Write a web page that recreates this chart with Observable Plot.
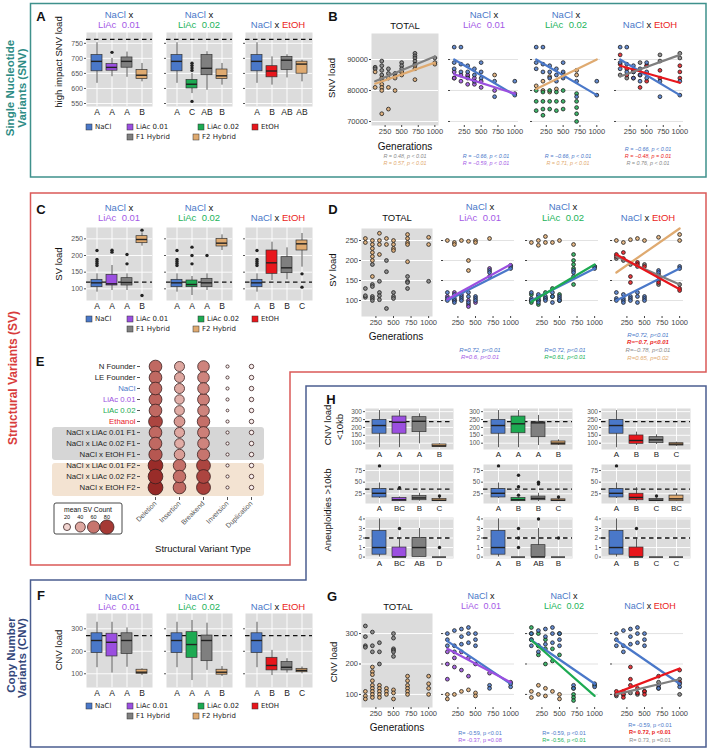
<!DOCTYPE html>
<html><head><meta charset="utf-8">
<script src="https://cdn.jsdelivr.net/npm/d3@7"></script>
<script src="https://cdn.jsdelivr.net/npm/@observablehq/plot@0.6"></script>
<style>
html,body{margin:0;padding:0;background:#fff}
#root{position:relative;width:709px;height:750px;overflow:hidden;background:#fff}
</style></head><body><div id="root"></div>
<script>
// ---------------- DATA ----------------
const groupColors = {NaCl:'#4A78C9', LiAc01:'#9B4FE0', LiAc02:'#1DAA52', EtOH:'#E8161C', F1:'#7F7F7F', F2:'#DFAA70'};
// box rows: [group, lowWhisker, q1, median, q3, highWhisker]
const snvBox1 = [['NaCl',617,657,690,711,752],['LiAc01',639,659,670,681,700],['F1',637,669,690,703,721],['F2',622,631,644,661,683]];
const snvOut1 = [[1,720]];
const snvBox2 = [['NaCl',617,657,690,711,752],['LiAc02',583,600,614,628,650],['F1',594,644,667,711,722],['F2',611,631,642,663,683]];
const snvOut2 = [[1,684],[1,676],[1,668],[1,660],[1,557]];
const snvBox3 = [['NaCl',617,657,690,711,752],['EtOH',611,637,658,674,705],['F1',635,661,694,705,712],['F2',622,649,681,689,694]];
const snvOut3 = [];
const snvLetters = [['A','A','A','B'],['A','C','AB','B'],['A','B','AB','AB']];
const snvTicks = [550,600,650,700,750];

const svBox1 = [['NaCl',90,105,118,127,145],['LiAc01',95,110,115,142,170],['F1',95,110,119,132,145],['F2',228,237,248,258,268]];
const svOut1 = [[0,215],[0,188],[0,182],[0,176],[0,170],[1,216],[1,210],[2,203],[2,175],[3,276],[3,80]];
const svBox2 = [['NaCl',90,105,118,127,145],['LiAc02',80,105,113,125,137],['F1',95,105,118,130,145],['F2',215,227,237,250,262]];
const svOut2 = [[0,215],[0,188],[0,182],[0,176],[0,170],[1,225],[1,200],[1,175],[2,200]];
const svBox3 = [['NaCl',90,105,118,127,145],['EtOH',125,145,178,215,240],['F1',127,147,163,195,223],['F2',165,215,235,245,266]];
const svOut3 = [[0,215],[0,188],[0,182],[0,176],[0,170],[3,145],[3,105]];
const svLetters = [['A','A','A','B'],['A','A','A','B'],['A','B','B','C']];
const svTicks = [100,150,200,250];

const cnvBox1 = [['NaCl',127,192,248,280,329],['LiAc01',103,177,240,278,329],['F1',129,188,248,280,304],['F2',92,100,107,118,122]];
const cnvBox2 = [['NaCl',127,192,248,280,329],['LiAc02',70,171,230,285,337],['F1',115,156,248,270,325],['F2',88,96,107,118,132]];
const cnvBox3 = [['NaCl',127,192,248,280,329],['EtOH',92,115,137,171,204],['F1',103,115,129,152,167],['F2',100,107,115,122,130]];
const cnvLetters = [['A','A','A','B'],['A','A','A','B'],['A','B','B','C']];
const cnvTicks = [100,200,300];

// H: small CNV panels
const hSmallBox1 = [['NaCl',71,160,212,248,307],['LiAc01',71,160,233,269,307],['F1',96,170,239,265,286],['F2',72,75,83,92,96]];
const hSmallBox2 = [['NaCl',71,160,212,248,307],['LiAc02',71,163,223,269,307],['F1',85,138,229,233,276],['F2',85,90,100,111,121]];
const hSmallBox3 = [['NaCl',71,160,212,248,307],['EtOH',85,96,117,149,170],['F1',92,100,121,138,153],['F2',80,85,94,100,106]];
const hSmallLetters = [['A','A','A','B'],['A','A','A','B'],['A','B','B','C']];
const hLargeBox1 = [['NaCl',15,17,26,35,48],['LiAc01',8,9,12,16,18],['F1',9,11,16,20,26],['F2',8,9,11,14,18]];
const hLargeOut1 = [[0,85],[1,38],[3,20]];
const hLargeBox2 = [['NaCl',15,17,26,35,48],['LiAc02',8,9,12,16,18],['F1',8,11,15,19,26],['F2',8,9,11,13,16]];
const hLargeOut2 = [[0,85],[1,65],[1,40],[1,22],[2,50],[2,46],[3,18]];
const hLargeBox3 = [['NaCl',15,17,26,35,48],['EtOH',8,11,17,25,38],['F1',8,9,11,14,16],['F2',8,9,14,21,26]];
const hLargeOut3 = [[0,85],[2,20]];
const hLargeLetters = [['A','BC','B','C'],['A','B','B','C'],['A','B','C','BC']];
const hAneuBox1 = [['NaCl',0,0.25,1,2.75,4],['LiAc01',0,0,0,1,2],['F1',0,0,1,2,3],['F2',0,0,0,0,0]];
const hAneuOut1 = [[1,3],[3,1]];
const hAneuBox2 = [['NaCl',0,0.25,1,2.75,4],['LiAc02',0,0,0,0,0],['F1',0,0,0,1.25,3],['F2',0,0,0,0,0]];
const hAneuOut2 = [[1,1],[1,2],[1,3],[2,4],[3,2]];
const hAneuBox3 = [['NaCl',0,0.25,1,2.75,4],['EtOH',0,0,0,1,2],['F1',0,0,0,0,0],['F2',0,0,0,0,0]];
const hAneuOut3 = [[1,3]];
const hAneuLetters = [['A','BC','AB','D'],['A','B','AB','B'],['A','B','C','C']];

// B: SNV load vs generations  [generation, value]
const snvTotalF1 = [[100,87500],[100,87000],[200,89500],[200,88000],[200,86500],[200,85000],[200,83500],[300,87000],[300,85500],[400,85500],[400,84500],[500,89000],[500,88000],[500,87000],[500,86000],[700,92000],[700,91200],[700,90500],[700,89500],[700,88500],[1000,90500],[1000,89000]];
const snvTotalF2 = [[100,81000],[100,86000],[200,84000],[200,82000],[200,81000],[200,80000],[200,72500],[300,84000],[300,81000],[300,74000],[400,84000],[400,80000],[500,86000],[500,85000],[700,88000],[700,87000],[700,83500],[1000,88500]];
const snvNaCl = [[100,94000],[100,89000],[100,87000],[200,94000],[200,88500],[200,86000],[300,88000],[300,86000],[300,84000],[400,87000],[400,85000],[400,83000],[500,89000],[500,86000],[500,84000],[700,83000],[700,78000],[1000,83000],[1000,78500]];
const snvLiAc01 = [[100,86000],[100,84000],[200,85000],[200,83000],[300,85000],[300,82000],[400,84000],[400,82000],[500,83000],[500,81000],[700,80000],[1000,79000]];
const snvF2inLiAc01 = [[100,84000],[300,84500],[400,83000],[700,85000]];
const snvLiAc02 = [[100,80000],[100,76500],[100,73500],[200,79500],[200,76500],[200,74000],[200,72000],[300,80000],[300,76500],[300,74000],[400,79500],[400,76500],[400,73500],[500,80000],[500,76500],[500,74000],[700,79000],[700,76500],[700,74500],[700,72500],[700,70000]];
const snvF2inLiAc02 = [[100,81500],[200,83000],[200,80000],[300,84500],[300,79500],[400,80500],[500,85500],[500,84500],[700,86500],[700,85000]];
const snvEtOH = [[100,91500],[100,88500],[200,87000],[200,85000],[300,84000],[300,86500],[400,85000],[400,81000],[500,88000],[500,83000],[700,86500],[700,84000],[1000,88000],[1000,86000],[1000,84000]];
const snvF1inEtOH = [[100,85000],[200,84000],[300,86000],[400,89000],[500,88000],[700,91500],[700,89500],[1000,90500],[1000,92000]];
// regression fits: [group, gen1, value1, gen2, value2]
const snvFitTotal = [['F1',100,83000,1000,91000],['F2',100,82200,1000,89000]];
const snvFitLiAc01 = [['NaCl',100,90000,1000,78500],['LiAc01',100,85200,1000,79000]];
const snvFitLiAc02 = [['NaCl',100,90000,1000,78500],['F2',100,80500,1000,90000]];
const snvFitEtOH = [['NaCl',100,90000,1000,78500],['EtOH',100,88000,1000,82500],['F1',100,84500,1000,91500]];

// D: SV load vs generations
const svTotalF1 = [[100,108],[100,112],[100,130],[200,190],[200,140],[200,135],[200,110],[200,105],[200,100],[300,120],[300,112],[300,102],[300,148],[400,80],[400,172],[400,200],[500,120],[500,110],[500,105],[700,160],[700,148],[700,145],[700,130],[1000,148]];
const svTotalF2 = [[100,255],[100,245],[200,250],[200,240],[200,230],[200,220],[200,210],[200,200],[200,160],[300,268],[300,250],[300,240],[300,215],[400,255],[400,240],[500,250],[500,240],[500,230],[500,225],[700,265],[700,255],[700,245],[700,240],[700,197],[1000,258],[1000,240]];
const svNaCl = [[100,120],[100,105],[100,100],[200,115],[200,105],[200,100],[200,95],[300,110],[300,105],[300,100],[400,120],[400,110],[400,95],[500,110],[500,105],[500,100],[700,175],[700,170],[700,160],[1000,185],[1000,180]];
const svLiAc01 = [[100,110],[200,120],[200,100],[300,115],[400,100],[400,90],[400,85],[500,95],[700,180],[1000,188]];
const svF2inLiAc01 = [[100,250],[200,245],[200,240],[300,250],[400,248],[500,250],[500,245],[700,255],[400,175],[400,200]];
const svLiAc02 = [[100,115],[100,100],[100,95],[200,110],[200,100],[200,90],[300,120],[300,105],[400,130],[400,110],[500,115],[500,100],[700,215],[700,200],[700,190],[700,180],[700,140],[1000,185]];
const svF2inLiAc02 = [[100,245],[200,250],[200,238],[300,260],[300,245],[400,245],[500,250],[700,240]];
const svEtOH = [[100,215],[100,210],[200,220],[200,205],[300,145],[300,160],[400,195],[400,190],[500,185],[700,165],[700,145],[1000,130],[1000,125]];
const svF1inEtOH = [[100,205],[200,200],[300,190],[400,185],[500,190],[700,150],[700,140],[1000,140]];
const svF2inEtOH = [[100,250],[200,245],[300,252],[400,255],[500,250],[700,258],[1000,250],[1000,265]];
const svFitLiAc01 = [['NaCl',100,100,1000,180],['LiAc01',100,103,1000,190]];
const svFitLiAc02 = [['NaCl',100,100,1000,180],['LiAc02',100,97,1000,190]];
const svFitEtOH = [['NaCl',100,100,1000,180],['F2',100,170,1000,280],['F1',100,210,1000,140],['EtOH',100,215,1000,128]];

// G: CNV load vs generations
const cnvTotalHigh = [[100,325],[100,290],[100,260],[100,255],[200,305],[200,260],[200,240],[300,270],[300,240],[300,200],[500,300],[500,285],[500,250],[500,245],[500,240],[500,225]];
const cnvTotalLow = [[100,110],[100,95],[100,85],[200,190],[200,175],[200,165],[200,145],[200,130],[200,120],[200,110],[200,100],[200,90],[300,130],[300,120],[300,110],[300,100],[300,90],[400,120],[400,110],[400,100],[500,115],[500,105],[500,85],[700,160],[700,145],[700,130],[700,120],[700,110],[700,100],[1000,160],[1000,135],[1000,120],[1000,100]];
const cnvNaCl = [[100,300],[100,280],[100,260],[200,310],[200,260],[200,240],[300,315],[300,290],[300,265],[400,320],[400,300],[400,270],[500,300],[500,280],[500,260],[700,130],[700,120],[1000,135],[1000,125]];
const cnvLiAc01 = [[100,240],[100,200],[100,150],[200,220],[200,190],[300,240],[300,180],[400,220],[400,160],[500,200],[700,170],[1000,140]];
const cnvF2inLiAc01 = [[100,100],[100,85],[200,100],[300,110],[400,115],[500,105],[500,95]];
const cnvLiAc02 = [[100,320],[100,300],[100,280],[200,300],[200,260],[200,230],[300,280],[300,250],[300,200],[400,250],[400,210],[500,300],[500,230],[700,120],[700,100],[700,90],[700,80],[1000,130]];
const cnvF2inLiAc02 = [[100,110],[100,90],[200,130],[200,100],[300,120],[300,95],[400,110],[500,100],[500,85]];
const cnvEtOH = [[100,110],[100,100],[200,110],[200,100],[200,90],[300,190],[300,150],[300,130],[400,120],[400,105],[500,110],[500,100],[700,160],[700,130],[1000,180],[1000,140]];
const cnvF1inEtOH = [[100,95],[200,100],[300,105],[400,100],[500,110],[700,140],[700,120],[1000,150],[1000,100]];
const cnvFitLiAc01 = [['NaCl',100,275,1000,135],['LiAc01',100,250,1000,140]];
const cnvFitLiAc02 = [['NaCl',100,278,1000,135],['LiAc02',100,278,1000,95]];
const cnvFitEtOH = [['NaCl',100,278,1000,135],['EtOH',100,105,1000,185],['F1',100,100,1000,150]];
const genTicks = [250,500,750,1000];

// E: mean SV counts
const svTypes = ['Deletion','Insertion','Breakend','Inversion','Duplication'];
const svRows = ['N Founder','LE Founder','NaCl','LiAc 0.01','LiAc 0.02','Ethanol','NaCl x LiAc 0.01 F1','NaCl x LiAc 0.02 F1','NaCl x EtOH F1','NaCl x LiAc 0.01 F2','NaCl x LiAc 0.02 F2','NaCl x EtOH F2'];
const svDeletion = [64,64,64,66,64,76,64,64,70,86,86,88];
const svInsertion = [40,40,40,36,38,46,40,38,44,62,62,64];
const svBreakend = [54,54,54,56,54,62,56,54,60,76,76,78];
const svInversion = [4,4,4,4,3,4,4,4,4,4,4,4];
const svDuplication = [8,8,8,8,8,8,8,8,8,8,8,8];
const svLegendValues = [20,40,60,80];

// ---------------- RENDER ----------------
const FONT = "'Liberation Sans', Arial, sans-serif";
const LFONT = "'DejaVu Sans', Verdana, sans-serif";
const BG = '#dcdcdc';
const root = document.getElementById('root');
const under = d3.select(root).append('svg').attr('width',709).attr('height',750)
  .style('position','absolute').style('left','0px').style('top','0px');

function put(svg, x, y) {
  svg.style.position = 'absolute'; svg.style.left = x + 'px'; svg.style.top = y + 'px';
  svg.style.background = 'transparent'; svg.style.maxWidth = 'none'; svg.style.overflow = 'visible';
  root.appendChild(svg);
}

function boxPanel(rows, outs, letters, o) {
  const stats = rows.map((r, i) => ({i, c: groupColors[r[0]], lo: r[1], q1: r[2], med: r[3], q3: r[4], hi: r[5]}));
  const out = outs.map(([i, v]) => ({i, v}));
  const mL = 34, mR = 2, mT = 2, mB = 16;
  const svg = Plot.plot({
    width: o.w + mL + mR, height: o.h + mT + mB,
    marginLeft: mL, marginRight: mR, marginTop: mT, marginBottom: mB,
    style: {fontFamily: FONT, fontSize: (o.fs || 7) + 'px', background: 'transparent', overflow: 'visible'},
    x: {type: 'band', domain: [0, 1, 2, 3], padding: o.pad ?? 0.3},
    y: {domain: o.domain},
    color: {type: 'identity'},
    marks: [
      Plot.frame({fill: BG, stroke: 'none'}),
      Plot.gridY(o.ticks, {stroke: 'white', strokeOpacity: 1, strokeWidth: 0.9}),
      Plot.ruleX([0, 1, 2, 3], {x: d => d, stroke: 'white', strokeWidth: 0.9}),
      Plot.ruleY([o.dash], {stroke: '#111', strokeWidth: 1.3, strokeDasharray: '4.5,3.5'}),
      Plot.ruleX(stats, {x: 'i', y1: 'lo', y2: 'hi', stroke: '#333', strokeWidth: 0.8}),
      Plot.barY(stats, {x: 'i', y1: 'q1', y2: 'q3', fill: 'c', stroke: '#333', strokeWidth: 0.7}),
      Plot.tickY(stats, {x: 'i', y: 'med', stroke: '#222', strokeWidth: 1.4}),
      Plot.dot(out, {x: 'i', y: 'v', r: o.r ?? 1.7, fill: '#222', stroke: 'none'}),
      Plot.axisX({tickSize: 0, tickPadding: 2, tickFormat: i => letters[i], fontSize: o.lfs || 8.5, fill: '#222', label: null}),
      Plot.axisY(o.ticks, {tickSize: 2, tickPadding: 1.5, label: null, fill: '#555', stroke: '#555',
        tickFormat: o.yLabels ? (d => String(d)) : (() => '')})
    ]
  });
  put(svg, o.x - mL, o.y - mT);
}

function scatterPanel(series, fits, o) {
  const pts = series.flatMap(([g, arr]) => arr.map(([gen, v]) => ({gen, v, c: groupColors[g]})));
  const lines = fits.map(([g, x1, y1, x2, y2]) => ({c: groupColors[g], pts: [{gen: x1, v: y1}, {gen: x2, v: y2}]}));
  const mL = 40, mR = 3, mT = 2, mB = 16;
  const svg = Plot.plot({
    width: o.w + mL + mR, height: o.h + mT + mB,
    marginLeft: mL, marginRight: mR, marginTop: mT, marginBottom: mB,
    style: {fontFamily: FONT, fontSize: '7.5px', background: 'transparent', overflow: 'visible'},
    x: {domain: [45, 1055]},
    y: {domain: o.domain},
    color: {type: 'identity'},
    marks: [
      o.total ? Plot.frame({fill: BG, stroke: 'none'}) : null,
      Plot.gridY(o.ticks, {stroke: o.total ? 'white' : '#dadada', strokeOpacity: 1, strokeWidth: o.total ? 1 : 0.8}),
      Plot.dot(pts, {x: 'gen', y: 'v', r: 1.9, fill: 'c', fillOpacity: 0.85, stroke: '#1e1e1e', strokeOpacity: 1, strokeWidth: 0.8}),
      ...lines.map(l => Plot.line(l.pts, {x: 'gen', y: 'v', stroke: l.c, strokeWidth: 2.2})),
      Plot.axisX(genTicks, {tickSize: 2, tickPadding: 1.5, fontSize: 7.5, fill: '#444', stroke: '#444', label: null, tickFormat: d => String(d)}),
      Plot.axisY(o.ticks, {tickSize: 2, tickPadding: 1.5, label: null, fill: '#444', stroke: '#444',
        tickFormat: o.yLabels ? (d => String(d)) : (() => '')})
    ]
  });
  put(svg, o.x - mL, o.y - mT);
}

// A
const colsABF = [[86, 66], [166, 66], [245, 67]];
[[snvBox1, snvOut1], [snvBox2, snvOut2], [snvBox3, snvOut3]].forEach(([b, ou], k) =>
  boxPanel(b, ou, snvLetters[k], {x: colsABF[k][0], w: colsABF[k][1], y: 32, h: 74, domain: [540, 786], ticks: snvTicks, dash: 763, yLabels: k === 0}));
// C
[[svBox1, svOut1], [svBox2, svOut2], [svBox3, svOut3]].forEach(([b, ou], k) =>
  boxPanel(b, ou, svLetters[k], {x: colsABF[k][0], w: colsABF[k][1], y: 227, h: 73, domain: [65, 284], ticks: svTicks, dash: 120, yLabels: k === 0}));
// F
[cnvBox1, cnvBox2, cnvBox3].forEach((b, k) =>
  boxPanel(b, [], cnvLetters[k], {x: colsABF[k][0], w: colsABF[k][1], y: 613, h: 74, domain: [39, 368], ticks: cnvTicks, dash: 270, yLabels: k === 0}));
// H
const colsH = [[365, 88], [483, 89], [601, 89]];
[hSmallBox1, hSmallBox2, hSmallBox3].forEach((b, k) =>
  boxPanel(b, [], hSmallLetters[k], {x: colsH[k][0], w: colsH[k][1], y: 408, h: 41, domain: [60, 320], ticks: [100, 150, 200, 250, 300], dash: 237, yLabels: true, fs: 6.5, lfs: 8}));
[[hLargeBox1, hLargeOut1], [hLargeBox2, hLargeOut2], [hLargeBox3, hLargeOut3]].forEach(([b, ou], k) =>
  boxPanel(b, ou, hLargeLetters[k], {x: colsH[k][0], w: colsH[k][1], y: 464, h: 39, domain: [4, 88], ticks: [25, 50, 75], dash: 35, yLabels: true, fs: 6.5, lfs: 8}));
[[hAneuBox1, hAneuOut1], [hAneuBox2, hAneuOut2], [hAneuBox3, hAneuOut3]].forEach(([b, ou], k) =>
  boxPanel(b, ou, hAneuLetters[k], {x: colsH[k][0], w: colsH[k][1], y: 517, h: 41, domain: [-0.15, 4.15], ticks: [0, 1, 2, 3, 4], dash: 2, yLabels: true, fs: 6.5, lfs: 8}));

// B
const colsB = [[371, 67], [450, 68], [532, 68], [616, 67]];
const snvOpts = {y: 33, h: 92, domain: [68700, 98400], ticks: [70000, 80000, 90000]};
scatterPanel([['F1', snvTotalF1], ['F2', snvTotalF2]], snvFitTotal, {...snvOpts, x: colsB[0][0], w: colsB[0][1], total: true, yLabels: true});
scatterPanel([['F2', snvF2inLiAc01], ['LiAc01', snvLiAc01], ['NaCl', snvNaCl]], snvFitLiAc01, {...snvOpts, x: colsB[1][0], w: colsB[1][1]});
scatterPanel([['F2', snvF2inLiAc02], ['LiAc02', snvLiAc02], ['NaCl', snvNaCl]], snvFitLiAc02, {...snvOpts, x: colsB[2][0], w: colsB[2][1]});
scatterPanel([['F1', snvF1inEtOH], ['EtOH', snvEtOH], ['NaCl', snvNaCl]], snvFitEtOH, {...snvOpts, x: colsB[3][0], w: colsB[3][1]});
// D
const colsDG = [[361, 71], [443, 71], [527, 71], [612, 71]];
const svOpts = {y: 228, h: 88, domain: [60, 280], ticks: [100, 150, 200, 250]};
scatterPanel([['F1', svTotalF1], ['F2', svTotalF2]], [], {...svOpts, x: colsDG[0][0], w: colsDG[0][1], total: true, yLabels: true});
scatterPanel([['F2', svF2inLiAc01], ['LiAc01', svLiAc01], ['NaCl', svNaCl]], svFitLiAc01, {...svOpts, x: colsDG[1][0], w: colsDG[1][1]});
scatterPanel([['F2', svF2inLiAc02], ['LiAc02', svLiAc02], ['NaCl', svNaCl]], svFitLiAc02, {...svOpts, x: colsDG[2][0], w: colsDG[2][1]});
scatterPanel([['F2', svF2inEtOH], ['F1', svF1inEtOH], ['EtOH', svEtOH], ['NaCl', svNaCl]], svFitEtOH, {...svOpts, x: colsDG[3][0], w: colsDG[3][1]});
// G
const cnvOpts = {y: 613, h: 94, domain: [57, 366], ticks: [100, 200, 300]};
scatterPanel([['F1', cnvTotalHigh], ['F2', cnvTotalLow]], [], {...cnvOpts, x: colsDG[0][0], w: colsDG[0][1], total: true, yLabels: true});
scatterPanel([['F2', cnvF2inLiAc01], ['LiAc01', cnvLiAc01], ['NaCl', cnvNaCl]], cnvFitLiAc01, {...cnvOpts, x: colsDG[1][0], w: colsDG[1][1]});
scatterPanel([['F2', cnvF2inLiAc02], ['LiAc02', cnvLiAc02], ['NaCl', cnvNaCl]], cnvFitLiAc02, {...cnvOpts, x: colsDG[2][0], w: colsDG[2][1]});
scatterPanel([['F1', cnvF1inEtOH], ['EtOH', cnvEtOH], ['NaCl', cnvNaCl]], cnvFitEtOH, {...cnvOpts, x: colsDG[3][0], w: colsDG[3][1]});

// E bubble chart
under.append('rect').attr('x', 52).attr('y', 427).attr('width', 212).attr('height', 33).attr('rx', 3).attr('fill', '#d6d6d6');
under.append('rect').attr('x', 52).attr('y', 463).attr('width', 212).attr('height', 33).attr('rx', 3).attr('fill', '#f3e3d2');
const svCols = [svDeletion, svInsertion, svBreakend, svInversion, svDuplication];
const svData = svTypes.flatMap((t, j) => svRows.map((r, i) => ({type: t, row: r, v: svCols[j][i]})));
const SVC_DOMAIN = [0, 20, 40, 60, 80, 100];
const SVC_RANGE = ['#ffffff', '#f1d5d1', '#dea7a0', '#c7756e', '#a53934', '#7d0f0f'];
const rowColor = {'NaCl': groupColors.NaCl, 'LiAc 0.01': groupColors.LiAc01, 'LiAc 0.02': groupColors.LiAc02, 'Ethanol': groupColors.EtOH};
const labelMarks = d3.groups(svRows, r => rowColor[r] || '#222').map(([c, rs]) =>
  Plot.text(rs, {y: d => d, text: d => d, frameAnchor: 'left', textAnchor: 'end', dx: -5, fill: c, fontSize: 7.8}));
const eSvg = Plot.plot({
  width: 290, height: 215, marginLeft: 140, marginRight: 20, marginTop: 10, marginBottom: 58,
  style: {fontFamily: FONT, fontSize: '7px', background: 'transparent', overflow: 'visible'},
  x: {type: 'point', domain: svTypes, range: [154, 252], padding: 0},
  y: {type: 'point', domain: svRows, range: [21, 151], padding: 0},
  r: {type: 'sqrt', domain: [0, 90], range: [0, 7.5]},
  color: {type: 'linear', domain: SVC_DOMAIN, range: SVC_RANGE},
  marks: [
    Plot.dot(svData, {x: 'type', y: 'row', r: 'v', fill: 'v', stroke: '#3a2020', strokeWidth: 0.8}),
    ...labelMarks,
    Plot.axisX({tickRotate: -45, tickSize: 3, tickPadding: 2, fontSize: 7, fill: '#555', stroke: '#555', textAnchor: 'end', label: null}),
    Plot.axisY({tickSize: 3, tickFormat: () => '', label: null, stroke: '#555'})
  ]
});
put(eSvg, 0, 340);

// ---------------- OVERLAY (frames, titles, labels, legends) ----------------
const ov = d3.select(root).append('svg').attr('width', 709).attr('height', 750)
  .style('position', 'absolute').style('left', '0px').style('top', '0px').style('pointer-events', 'none');
function T(x, y, segs, o = {}) {
  const t = ov.append('text').attr('x', x).attr('y', y).attr('font-size', o.size || 9.5)
    .attr('text-anchor', o.anchor || 'middle').attr('font-weight', o.weight || 'normal')
    .attr('font-style', o.style || 'normal').attr('font-family', o.family || FONT)
    .attr('dominant-baseline', 'central').style('white-space', 'pre');
  if (o.rotate) t.attr('transform', `rotate(${o.rotate},${x},${y})`);
  if (typeof segs === 'string') segs = [[segs, o.color || '#111']];
  segs.forEach(([s, c]) => t.append('tspan').attr('fill', c).text(s));
}
function path(d, c, w = 1.5) { ov.append('path').attr('d', d).attr('fill', 'none').attr('stroke', c).attr('stroke-width', w); }
path('M30.5,3.5H706V177H30.5Z', '#3F918C');
path('M30.5,193H706V372H290V565H30.5Z', '#DA5A58');
path('M306,386H706V747H30.5V580H306Z', '#4B5E90');

T(10, 88, 'Single Nucleotide', {size: 11.5, weight: 'bold', color: '#2E8C85', rotate: -90});
T(22, 88, 'Variants (SNV)', {size: 11.5, weight: 'bold', color: '#2E8C85', rotate: -90});
T(13, 378, 'Structural Variants (SV)', {size: 12, weight: 'bold', color: '#D83C3C', rotate: -90});
T(11, 655, 'Copy Number', {size: 11.5, weight: 'bold', color: '#34477A', rotate: -90});
T(22, 658, 'Variants (CNV)', {size: 11.5, weight: 'bold', color: '#34477A', rotate: -90});

[['A', 41, 16], ['B', 333, 16], ['C', 41, 209], ['D', 333, 209], ['E', 40, 361], ['F', 41, 595], ['G', 332, 596], ['H', 331, 399]]
  .forEach(([s, x, y]) => T(x, y, s, {size: 13, weight: 'bold'}));

const blue = groupColors.NaCl, pur = '#A45AE6', grn = '#22B35A', red = '#EA1D22';
function titles(xs, y1, y2, size = 9.5) {
  T(xs[0], y1, [['NaCl', blue], [' x', '#111']], {size}); T(xs[0], y2, [['LiAc  0.01', pur]], {size});
  T(xs[1], y1, [['NaCl', blue], [' x', '#111']], {size}); T(xs[1], y2, [['LiAc  0.02', grn]], {size});
  T(xs[2], y2, [['NaCl', blue], [' x ', '#111'], ['EtOH', red]], {size});
}
titles([119, 199, 278], 14, 24);
titles([119, 199, 278], 207, 217);
titles([119, 199, 278], 596, 606);
titles([484, 566, 650], 14, 24); T(405, 25, 'TOTAL');
titles([480, 563, 648], 206, 217); T(397, 217, 'TOTAL');
titles([481, 564, 650], 595.5, 605.5, 9); T(398, 606, 'TOTAL');

T(58, 62, 'high impact SNV load', {rotate: -90, size: 9.5});
T(331, 78, 'SNV load', {rotate: -90, size: 9.5});
T(58, 264, 'SV load', {rotate: -90, size: 9.5});
T(332, 270, 'SV load', {rotate: -90, size: 9.5});
T(58, 650, 'CNV load', {rotate: -90, size: 9.5});
T(333, 662, 'CNV load', {rotate: -90, size: 9.5});
T(327, 425, 'CNV load', {rotate: -90, size: 9.5});
T(339, 427, '<10kb', {rotate: -90, size: 9.5});
T(327, 510, 'Aneuploidies >10kb', {rotate: -90, size: 9.5});
T(405, 146, 'Generations', {size: 10});
T(396, 336, 'Generations', {size: 10});
T(397, 727, 'Generations', {size: 10});
T(203, 548, 'Structural Variant Type', {size: 9.5});

const gry = '#8a8a8a', tan = '#DFAA70';
const st = (x, y, s, c, o = {}) => T(x, y, s, {size: o.size || 5.4, style: o.style || 'italic', color: c, weight: o.weight});
st(405, 156, 'R = 0.48, p < 0.01', gry); st(405, 163, 'R = 0.57, p < 0.01', tan);
st(486, 156, 'R = −0.66, p < 0.01', blue); st(486, 163, 'R = −0.59, p < 0.01', pur);
st(568, 156, 'R = −0.66, p < 0.01', blue); st(568, 163, 'R = 0.71, p < 0.01', tan);
st(648, 149, 'R = −0.66, p < 0.01', blue); st(648, 156, 'R = −0.48, p = 0.01', red); st(648, 163, 'R = 0.76, p < 0.01', gry);
st(480, 350, 'R=0.72, p<0.01', blue, {size: 6}); st(480, 357, 'R=0.6, p<0.01', pur, {size: 6});
st(565, 350, 'R=0.72, p<0.01', blue, {size: 6}); st(565, 357, 'R=0.61, p<0.01', grn, {size: 6});
st(648, 335, 'R=0.72, p<0.01', blue, {size: 6}); st(648, 342, 'R=−0.7, p<0.01', red, {size: 6, weight: 'bold'});
st(648, 350, 'R=−0.78, p<0.01', gry, {size: 6}); st(648, 358, 'R=0.65, p=0.02', tan, {size: 6});
st(480, 733, 'R= -0.59, p <0.01', blue, {style: 'normal', size: 5.6}); st(480, 740, 'R= -0.37, p =0.08', pur, {style: 'normal', size: 5.6});
st(564, 733, 'R= -0.59, p <0.01', blue, {style: 'normal', size: 5.6}); st(564, 740, 'R= -0.56, p <0.01', grn, {style: 'normal', size: 5.6});
st(650, 725, 'R= -0.59, p <0.01', blue, {style: 'normal', size: 5.6}); st(650, 732, 'R= 0.72, p <0.01', red, {style: 'normal', size: 5.6, weight: 'bold'});
st(650, 740, 'R= 0.73, p =0.01', gry, {style: 'normal', size: 5.6});

// group legends
const legendItems = [['NaCl', 'NaCl', 86, 0], ['LiAc01', 'LiAc 0.01', 127, 0], ['LiAc02', 'LiAc 0.02', 198, 0], ['EtOH', 'EtOH', 252, 0], ['F1', 'F1 Hybrid', 127, 1], ['F2', 'F2 Hybrid', 193, 1]];
function groupLegend(y0) {
  legendItems.forEach(([g, label, x, row]) => {
    const y = y0 + row * 10;
    ov.append('rect').attr('x', x).attr('y', y - 3).attr('width', 6).attr('height', 6).attr('fill', groupColors[g]).attr('stroke', '#333').attr('stroke-width', 0.5);
    T(x + 9, y, label, {anchor: 'start', size: 7, family: LFONT, color: '#222'});
  });
}
groupLegend(127); groupLegend(319); groupLegend(706);

// size legend for E
const rS = d3.scaleSqrt().domain([0, 90]).range([0, 7.5]);
const cS = d3.scaleLinear().domain(SVC_DOMAIN).range(SVC_RANGE);
ov.append('rect').attr('x', 54).attr('y', 503).attr('width', 68).attr('height', 31).attr('rx', 2).attr('fill', 'white').attr('stroke', '#333').attr('stroke-width', 0.9);
T(88, 509, 'mean SV Count', {size: 6.8});
svLegendValues.forEach((v, i) => {
  const x = 67 + i * 13.3;
  T(x, 517, String(v), {size: 5.5});
  ov.append('circle').attr('cx', x).attr('cy', 527).attr('r', rS(v)).attr('fill', cS(v)).attr('stroke', '#3a2020').attr('stroke-width', 0.8);
});
</script></body></html>
